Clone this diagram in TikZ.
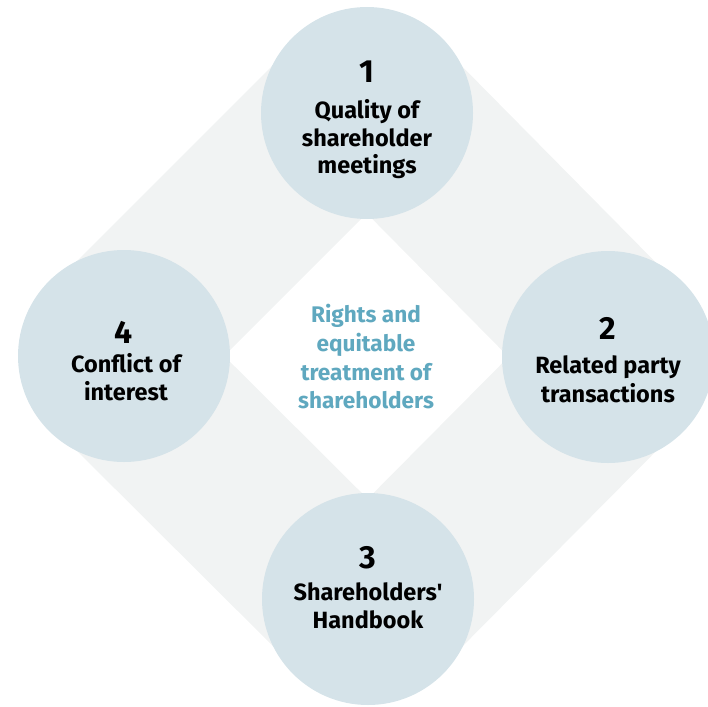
\documentclass[tikz,border=0pt]{standalone}
\usepackage{fontspec}
\setmainfont{Fira Sans}
\usetikzlibrary{calc}
\definecolor{bandgray}{HTML}{F1F3F3}
\definecolor{circblue}{HTML}{D5E3E9}
\definecolor{tealtext}{HTML}{5FA8BF}
\begin{document}
\begin{tikzpicture}[x=1pt,y=-1pt,
  topic/.style={circle,fill=circblue,draw=none,minimum size=212pt,inner sep=0pt},
  numtxt/.style={anchor=base,inner sep=0pt,font=\bfseries\fontsize{32}{32}\selectfont},
  linetxt/.style={anchor=base,inner sep=0pt,font=\bfseries\fontsize{23.5}{28}\selectfont},
  centertxt/.style={anchor=base,inner sep=0pt,text=tealtext,font=\bfseries\fontsize{22.6}{28}\selectfont},
  band/.style={fill=bandgray,draw=none}]
\useasboundingbox (0,0) rectangle (708,706);
% circle centres
\coordinate (c1) at (367,113);
\coordinate (c2) at (608,357);
\coordinate (c3) at (368,599);
\coordinate (c4) at (124,356);
% band strips
\fill[band] ($(c4)+(-71,-71)$) -- ($(c1)+(-71,-71)$) -- ($(c1)+(50,50)$) -- ($(c4)+(50,50)$) -- cycle;
\fill[band] ($(c1)+(71,-71)$) -- ($(c2)+(71,-71)$) -- ($(c2)+(-50,50)$) -- ($(c1)+(-50,50)$) -- cycle;
\fill[band] ($(c2)+(71,71)$) -- ($(c3)+(71,71)$) -- ($(c3)+(-50,-50)$) -- ($(c2)+(-50,-50)$) -- cycle;
\fill[band] ($(c3)+(-71,71)$) -- ($(c4)+(-71,71)$) -- ($(c4)+(50,-50)$) -- ($(c3)+(50,-50)$) -- cycle;
% circles
\node[topic] (t1) at (c1) {};
\node[topic] (t2) at (c2) {};
\node[topic] (t3) at (c3) {};
\node[topic] (t4) at (c4) {};
% circle 1
\node[numtxt] (n1) at (367,83) {1};
\node[linetxt] (l1a) at (367,118) {Quality of};
\node[linetxt] (l1b) at (367,146) {shareholder};
\node[linetxt] (l1c) at (367,173) {meetings};
% circle 2
\node[numtxt] (n2) at (608,339) {2};
\node[linetxt] (l2a) at (608,373) {Related party};
\node[linetxt] (l2b) at (608,402) {transactions};
% circle 3
\node[numtxt] (n3) at (368,568) {3};
\node[linetxt] (l3a) at (368,600) {Shareholders\textquotesingle};
\node[linetxt] (l3b) at (368,628) {Handbook};
% circle 4
\node[numtxt] (n4) at (124,343) {4};
\node[linetxt] (l4a) at (126,372) {Conflict of};
\node[linetxt] (l4b) at (126,400) {interest};
% centre
\node[centertxt] (m1) at (366,322) {Rights and};
\node[centertxt] (m2) at (366,351) {equitable};
\node[centertxt] (m3) at (366,380) {treatment of};
\node[centertxt] (m4) at (366,408) {shareholders};
\end{tikzpicture}
\end{document}
